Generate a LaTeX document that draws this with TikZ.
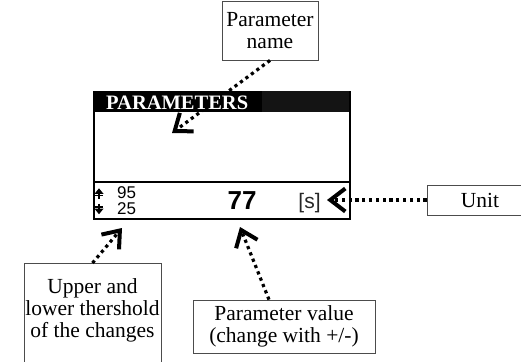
\documentclass[tikz,border=0pt]{standalone}
\usepackage{fontspec}
\setmainfont{Liberation Serif}
\newfontfamily\sansf{Liberation Sans}
\usetikzlibrary{arrows.meta}
\begin{document}
\begin{tikzpicture}[x=1pt,y=-1pt,
  callout/.style={draw=black!70,line width=0.8pt,inner sep=0pt,align=center,
    font=\fontsize{21.5}{21.5}\selectfont},
  plainbox/.style={draw=black!70,line width=0.8pt,inner sep=0pt},
  boxtext/.style={inner sep=0pt,align=center,font=\fontsize{21.5}{22}\selectfont},
  ptr/.style={line width=3.2pt,dash pattern=on 3.2pt off 3.6pt,
    -{Straight Barb[length=15pt,width=23pt,line width=4pt]}}]
\useasboundingbox (0,0) rectangle (521,361);
% screen
\node[draw,line width=1.5pt,minimum width=256pt,minimum height=127pt,inner sep=0pt,anchor=north west] (screen) at (93,91) {};
\node[fill=black!92,minimum width=256pt,minimum height=21pt,inner sep=0pt,anchor=north west] (bar) at (93,91) {};
\fill[black] (93,91) rectangle (262,112);
\draw[line width=1.5pt] (screen.west |- 0,182) -- (screen.east |- 0,182);
% callouts
\node[callout,minimum width=96pt,minimum height=59pt] (name) at (270,30.5) {Parameter\\name};
\node[plainbox,minimum width=137pt,minimum height=112pt,anchor=north] (thr) at (92.5,263) {};
\node[boxtext] (thrtext) at (92.5,310) {Upper and\\lower thershold\\of the changes};
\node[callout,minimum width=182pt,minimum height=53pt] (val) at (284,326.5) {Parameter value\\(change with +/-)};
\node[callout,minimum width=106pt,minimum height=30pt] (unit) at (480,200) {Unit};
% tips
\coordinate (tName) at (172,133);
\coordinate (tThr) at (122,228);
\coordinate (tVal) at (240,227);
\coordinate (tUnit) at (327,200);
\draw[ptr] (name.south) -- (tName);
\draw[ptr] (thr.north) -- (tThr);
\draw[ptr] ([xshift=-15pt]val.north) -- (tVal);
\draw[ptr] (unit.west) -- (tUnit);
% screen texts (over the connectors)
\fill[black] (93,92) rectangle (262,111.5);
\node[anchor=base west,text=white,inner sep=0pt,font=\fontsize{20.5}{20.5}\selectfont\bfseries] (title) at (106,109) {PARAMETERS};
% threshold symbols
\fill (94.5,193.8) -- (99,188.3) -- (103.5,193.8) -- cycle;
\draw[line width=1.3pt] (95,195.5) -- (103,195.5);
\draw[line width=1.8pt] (99,193) -- (99,198.8);
\fill (94.5,208.7) -- (99,214.2) -- (103.5,208.7) -- cycle;
\draw[line width=1.3pt] (95,207) -- (103,207);
\draw[line width=1.8pt] (99,203.5) -- (99,209.5);
\node[anchor=base west,inner sep=0pt,font=\sansf\fontsize{17}{17}\selectfont] (up) at (117,198.5) {95};
\node[anchor=base west,inner sep=0pt,font=\sansf\fontsize{17}{17}\selectfont] (down) at (117,214.5) {25};
\node[anchor=base,inner sep=0pt,font=\sansf\bfseries\fontsize{26}{26}\selectfont] (value) at (242,209) {77};
\node[anchor=base,inner sep=0pt,text=black!85,font=\sansf\fontsize{21}{21}\selectfont] (unitval) at (309.5,208) {[s]};
\end{tikzpicture}
\end{document}
